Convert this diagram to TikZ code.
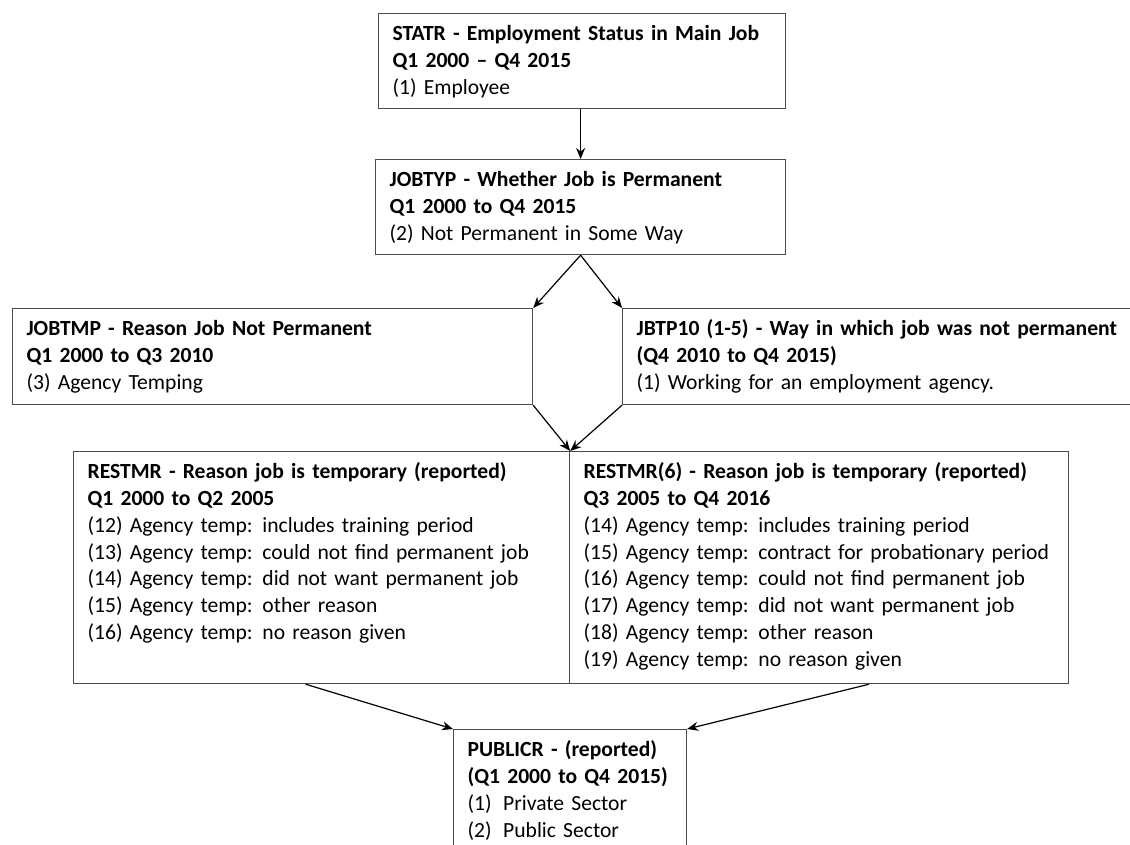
\documentclass[tikz,border=0pt]{standalone}
\usepackage{fontspec}
\setmainfont{Carlito}
\usepackage{tikz}
\usetikzlibrary{arrows.meta}
\frenchspacing
\hyphenpenalty=10000
\newcommand\AgTemp{Agency temp:\hspace{0.12em} }
\tikzset{
  box/.style={
    rectangle,
    draw = black!70,
    line width = 1.2pt,
    anchor = north west,
    align = left,
    inner xsep = 14pt,
    inner ysep = 0pt,
    text height = 27pt,
    font = \fontsize{21.6}{26.8}\selectfont
  }
}
\tikzset{
  link/.style={
    draw = black,
    line width = 1.2pt,
    -{Stealth[length=11pt, width=9pt]}
  }
}

\begin{document}
\begin{tikzpicture}[x=1pt, y=-1pt]
\useasboundingbox (0,0) rectangle (1130,845);
\node[box, text width=379pt, text depth=68pt] (B1) at (378,13) {\textbf{STATR - Employment Status in Main Job}\\\textbf{Q1 2000 -- Q4 2015}\\(1) Employee};
\node[box, text width=382pt, text depth=68pt] (B2) at (375,159) {\textbf{JOBTYP - Whether Job is Permanent}\\\textbf{Q1 2000 to Q4 2015}\\(2) Not Permanent in Some Way};
\node[box, text width=492pt, text depth=69pt] (B31) at (12,308) {\textbf{JOBTMP - Reason Job Not Permanent}\\\textbf{Q1 2000 to Q3 2010}\\(3) Agency Temping};
\node[box, text width=510pt, text depth=69pt] (B32) at (622,308) {\textbf{JBTP10 (1-5) - Way in which job was not permanent}\\\textbf{(Q4 2010 to Q4 2015)}\\(1) Working for an employment agency.};
\node[box, text width=468pt, text depth=205pt] (B41) at (73,451) {\textbf{RESTMR - Reason job is temporary (reported)}\\\textbf{Q1 2000 to Q2 2005}\\(12) \AgTemp includes training period\\(13) \AgTemp could not find permanent job\\(14) \AgTemp did not want permanent job\\(15) \AgTemp other reason\\(16) \AgTemp no reason given};
\node[box, text width=471pt, text depth=205pt] (B42) at (569,451) {\textbf{RESTMR(6) - Reason job is temporary (reported)}\\\textbf{Q3 2005 to Q4 2016}\\(14) \AgTemp includes training period\\(15) \AgTemp contract for probationary period\\(16) \AgTemp could not find permanent job\\(17) \AgTemp did not want permanent job\\(18) \AgTemp other reason\\(19) \AgTemp no reason given};
\node[box, text width=205pt, text depth=125pt] (B5) at (453,729) {\textbf{PUBLICR - (reported)}\\\textbf{(Q1 2000 to Q4 2015)}\\(1)\hspace{0.2em} Private Sector\\(2)\hspace{0.2em} Public Sector};

\path (B2.north |- B1.south) edge[link] (B2.north)
      (B2.south) edge[link] (B31.north east)
      (B2.south) edge[link] (B32.north west)
      (B31.south east) edge[link] (B41.north east)
      (B32.south west) edge[link] (B41.north east)
      ([xshift=-16pt]B41.south) edge[link] (B5.north west)
      ([xshift=50pt]B42.south) edge[link] (B5.north east);
\end{tikzpicture}
\end{document}
